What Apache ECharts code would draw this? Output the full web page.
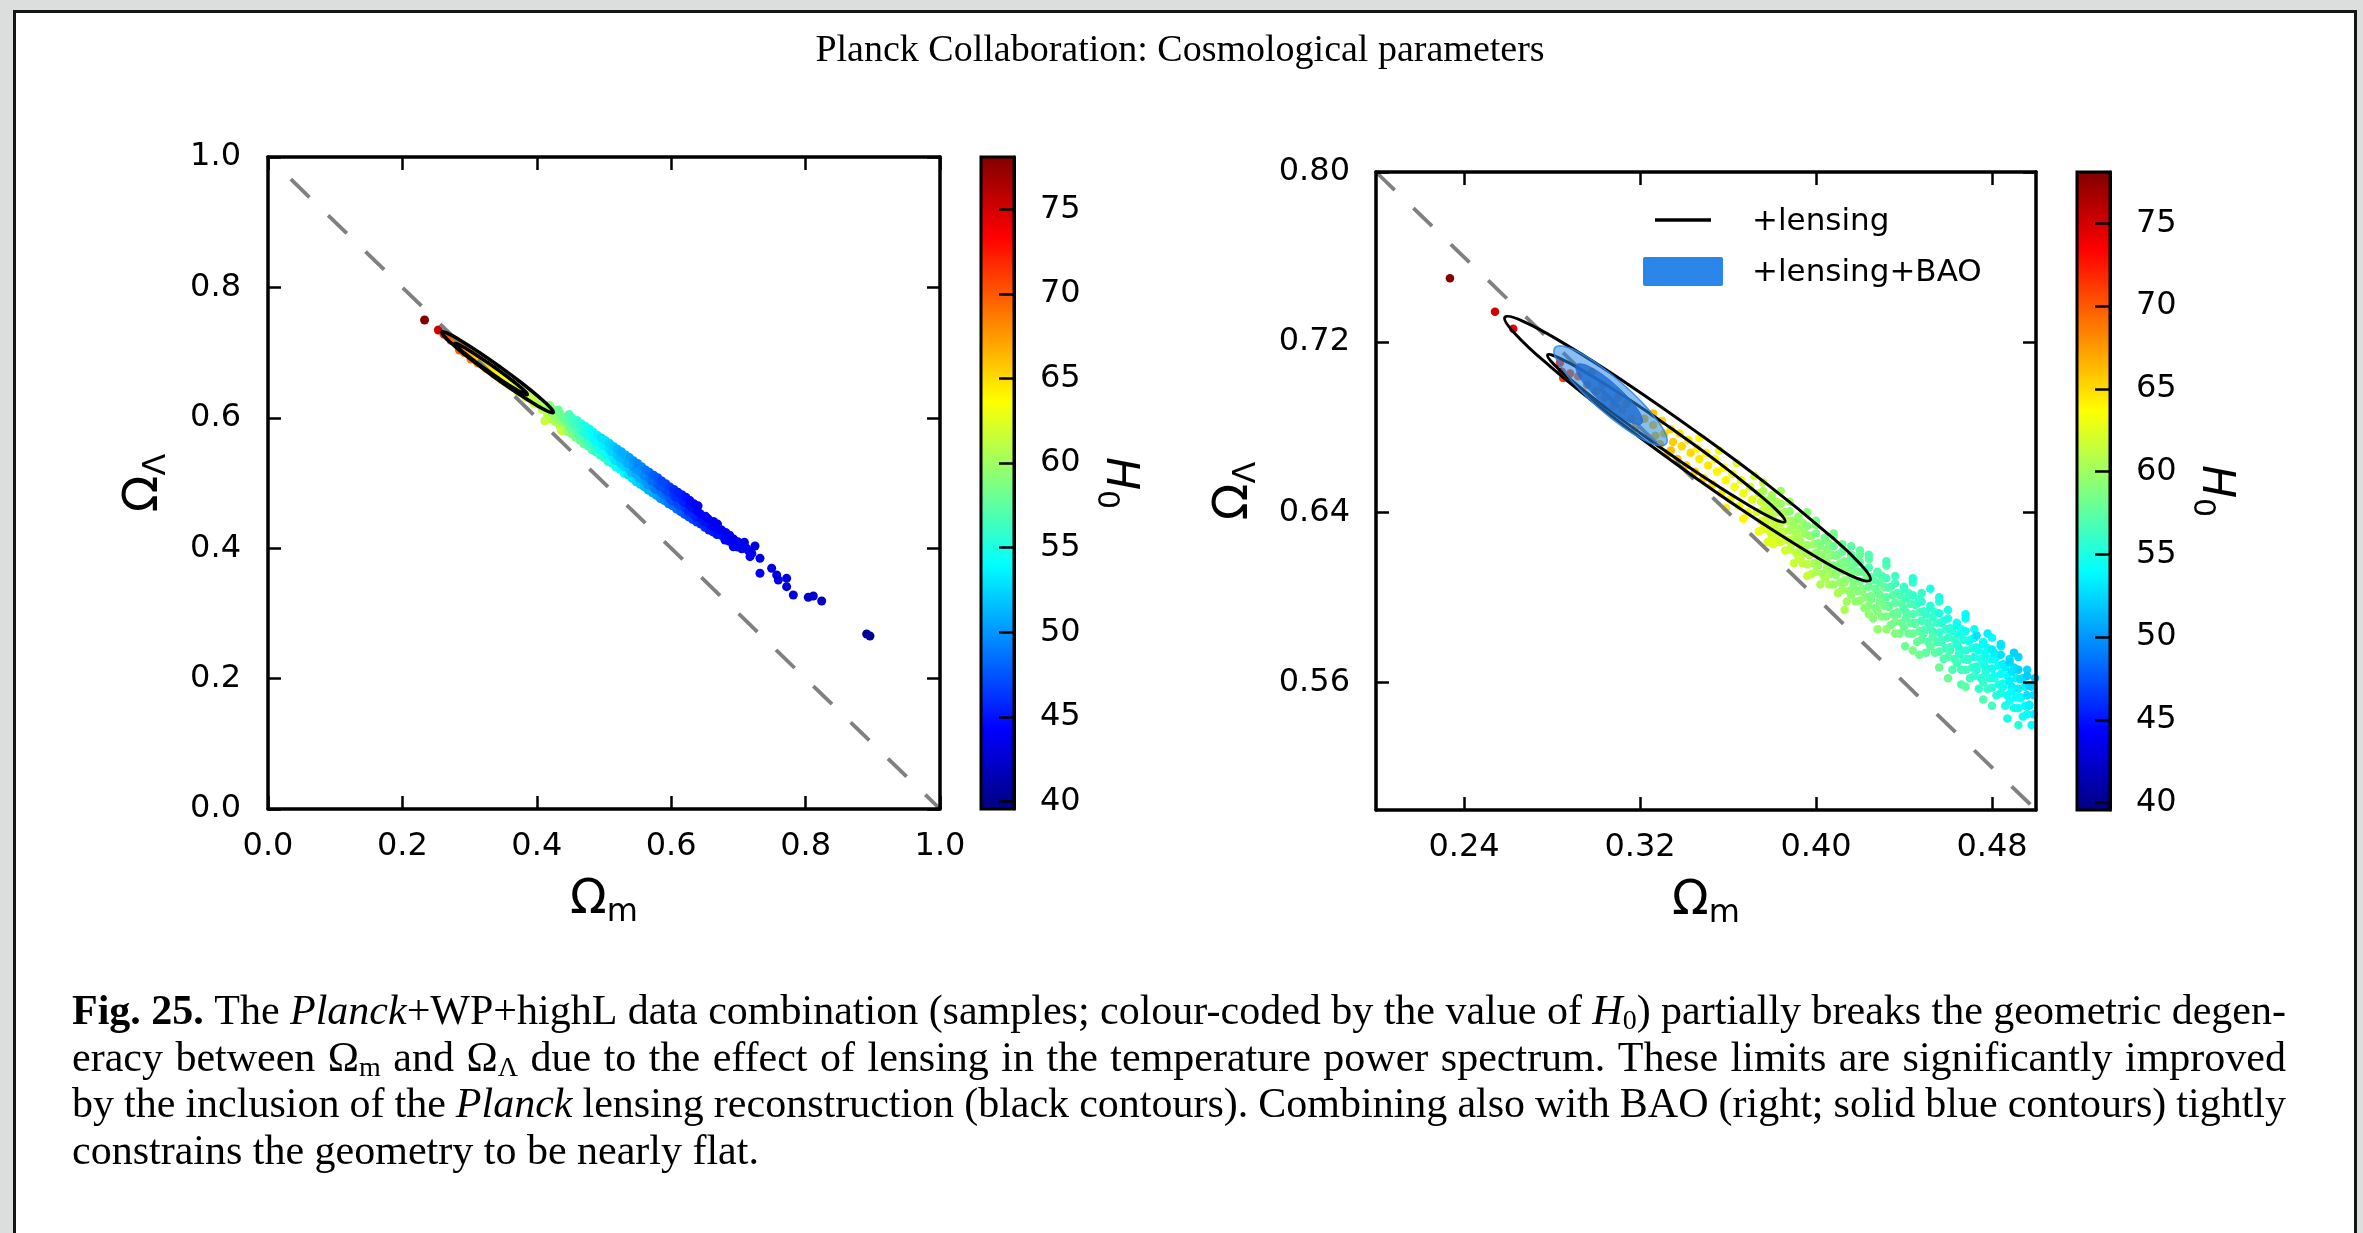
<!DOCTYPE html>
<html>
<head>
<meta charset="utf-8">
<title>Planck Collaboration: Cosmological parameters</title>
<script src="https://cdn.jsdelivr.net/npm/echarts@6.0.0/dist/echarts.min.js"></script>
<style>
html,body{margin:0;padding:0;background:#dcdede;overflow:hidden;}
#chart{width:2363px;height:1233px;}
</style>
</head>
<body>
<div id="chart"></div>
<script>
// ---------------- text ----------------
const titleText = 'Planck Collaboration: Cosmological parameters';
const captionLines = [
  '{b|Fig. 25.} The {i|Planck}+WP+highL data combination (samples; colour-coded by the value of {i|H}{s|0}) partially breaks the geometric degen-',
  'eracy between \u03A9{s|m} and \u03A9{s|\u039B} due to the effect of lensing in the temperature power spectrum. These limits are significantly improved',
  'by the inclusion of the {i|Planck} lensing reconstruction (black contours). Combining also with BAO (right; solid blue contours) tightly',
  'constrains the geometry to be nearly flat.'
];
const legendLabels = ['+lensing', '+lensing+BAO'];

// ---------------- axes / ticks ----------------
const h0Min = 39.55, h0Max = 78.1;
const leftXRange = [0, 1], leftYRange = [0, 1];
const rightXRange = [0.2, 0.5], rightYRange = [0.5, 0.8];
const leftXTicks = [0, 0.2, 0.4, 0.6, 0.8, 1.0];
const leftYTicks = [0, 0.2, 0.4, 0.6, 0.8, 1.0];
const rightXTicks = [0.24, 0.32, 0.40, 0.48];
const rightYTicks = [0.56, 0.64, 0.72, 0.80];
const h0Ticks = [40, 45, 50, 55, 60, 65, 70, 75];

// flat-universe line  Omega_m + Omega_Lambda = 1
const leftFlatLine = [[0.034, 0.966], [1.0, 0.0]];
const rightFlatLine = [[0.2, 0.8], [0.5, 0.5]];

// ---------------- contours [Omega_m, Omega_Lambda] ----------------
const lensing95 = [[0.4246,0.6081],[0.4163,0.6100],[0.3967,0.6211],[0.3687,0.6395],[0.3366,0.6626],[0.3052,0.6868],[0.2794,0.7084],[0.2630,0.7242],[0.2586,0.7317],[0.2669,0.7298],[0.2865,0.7187],[0.3145,0.7002],[0.3466,0.6771],[0.3780,0.6530],[0.4038,0.6313],[0.4202,0.6156]];
const lensing68 = [[0.3859,0.6356],[0.3807,0.6369],[0.3681,0.6441],[0.3500,0.6559],[0.3291,0.6706],[0.3087,0.6859],[0.2918,0.6995],[0.2810,0.7094],[0.2780,0.7140],[0.2832,0.7126],[0.2958,0.7055],[0.3140,0.6937],[0.3348,0.6790],[0.3553,0.6637],[0.3721,0.6500],[0.3829,0.6402]];
const bao95 = [[0.3318,0.6721],[0.3280,0.6715],[0.3208,0.6745],[0.3116,0.6805],[0.3015,0.6888],[0.2923,0.6979],[0.2852,0.7066],[0.2813,0.7135],[0.2814,0.7175],[0.2852,0.7181],[0.2924,0.7152],[0.3016,0.7091],[0.3117,0.7008],[0.3209,0.6917],[0.3280,0.6830],[0.3319,0.6761]];
const bao68 = [[0.3208,0.6818],[0.3184,0.6814],[0.3141,0.6831],[0.3086,0.6867],[0.3027,0.6917],[0.2973,0.6972],[0.2932,0.7025],[0.2911,0.7067],[0.2912,0.7093],[0.2936,0.7097],[0.2979,0.7080],[0.3034,0.7044],[0.3093,0.6994],[0.3147,0.6939],[0.3188,0.6886],[0.3209,0.6843]];

// ---------------- samples [Omega_m, Omega_Lambda, H0] ----------------
const leftSamples = [
[0.233,0.750,78],[0.2535,0.7347,75],
[0.262,0.728,72],[0.268,0.724,71],[0.272,0.719,70],[0.278,0.718,69.5],[0.282,0.712,69],[0.285,0.704,70],[0.288,0.709,68],[0.292,0.700,69],[0.295,0.704,67.5],[0.300,0.698,67],[0.302,0.690,68.5],[0.305,0.697,66.5],[0.310,0.691,66],[0.312,0.684,67.5],[0.316,0.688,65.5],[0.320,0.683,65.5],[0.324,0.676,66.5],[0.326,0.680,65],[0.332,0.674,64.5],[0.336,0.667,65.5],[0.338,0.671,64.5],[0.344,0.666,64],[0.348,0.658,64.5],[0.350,0.662,63.5],[0.356,0.656,63],[0.360,0.649,63.5],[0.362,0.653,63],[0.368,0.647,62.5],[0.372,0.640,63],[0.374,0.644,62],[0.380,0.638,62],[0.384,0.631,62.5],[0.386,0.635,61.5],[0.392,0.629,61],[0.396,0.622,61.5],[0.398,0.626,61],[0.404,0.620,60.5],[0.408,0.613,61],[0.410,0.617,60.5],[0.412,0.5955,61.5],
[0.416,0.604,61],[0.417,0.613,60],[0.419,0.619,59.5],
[0.422,0.598,61],[0.423,0.607,60],[0.421,0.615,59],
[0.428,0.594,60.5],[0.427,0.603,59.5],[0.429,0.611,59],
[0.434,0.588,61],[0.433,0.597,59.5],[0.435,0.606,58.5],[0.432,0.612,58],
[0.440,0.585,60],[0.441,0.593,59],[0.439,0.601,58],[0.437,0.580,61.5],
[0.446,0.579,59.5],[0.447,0.588,58.5],[0.445,0.597,57.5],[0.448,0.605,57],
[0.452,0.575,59],[0.451,0.584,58],[0.453,0.592,57],[0.452,0.600,56.5],
[0.458,0.570,58.5],[0.459,0.579,57.5],[0.457,0.588,56.5],[0.460,0.596,56],
[0.464,0.566,58],[0.463,0.574,57],[0.465,0.583,56],[0.466,0.591,55.5],
[0.470,0.560,58],[0.471,0.569,57],[0.469,0.578,55.5],[0.472,0.587,55],
[0.476,0.557,57],[0.477,0.566,56],[0.475,0.574,55],[0.478,0.583,54.5],
[0.482,0.551,57],[0.481,0.560,56],[0.483,0.569,54.5],[0.484,0.578,54],
[0.488,0.548,56],[0.489,0.557,55],[0.487,0.565,54],[0.490,0.573,53.5],
[0.494,0.543,56],[0.493,0.552,55],[0.495,0.561,54],[0.496,0.569,53],
[0.500,0.539,55.5],[0.501,0.548,54.5],[0.499,0.557,53.5],[0.502,0.565,53],
[0.506,0.533,55.5],[0.505,0.543,54],[0.507,0.552,53],[0.508,0.561,52.5],
[0.512,0.530,55],[0.513,0.539,53.5],[0.511,0.548,52.5],[0.514,0.556,52],
[0.518,0.524,55],[0.517,0.534,53],[0.519,0.543,52],[0.520,0.552,51.5],
[0.524,0.521,54],[0.525,0.530,52.5],[0.523,0.539,51.5],[0.526,0.548,51],
[0.530,0.515,54],[0.529,0.525,52.5],[0.531,0.534,51.5],[0.532,0.543,51],
[0.536,0.512,53],[0.537,0.521,52],[0.535,0.530,51],[0.538,0.539,50.5],
[0.542,0.507,53],[0.541,0.516,51.5],[0.543,0.525,50.5],[0.544,0.534,50],
[0.548,0.502,52.5],[0.549,0.512,51],[0.547,0.521,50],[0.550,0.530,49.5],
[0.554,0.498,52],[0.553,0.507,51],[0.555,0.516,50],[0.556,0.525,49.5],
[0.560,0.494,51.5],[0.561,0.503,50.5],[0.559,0.512,49.5],[0.562,0.520,49],
[0.566,0.489,51],[0.565,0.498,50],[0.567,0.507,49],[0.568,0.516,48.5],
[0.572,0.485,51],[0.573,0.494,49.5],[0.571,0.503,48.5],[0.574,0.512,48],
[0.578,0.481,50.5],[0.577,0.490,49],[0.579,0.499,48],[0.580,0.508,47.5],
[0.584,0.476,50],[0.585,0.486,48.5],[0.583,0.495,47.5],[0.586,0.503,47],
[0.590,0.473,49.5],[0.589,0.482,48.5],[0.591,0.490,47.5],[0.592,0.499,47],
[0.596,0.468,49],[0.597,0.477,48],[0.595,0.486,47],[0.598,0.494,46.5],
[0.602,0.465,48.5],[0.601,0.473,47.5],[0.603,0.482,46.5],[0.604,0.490,46],
[0.608,0.460,48.5],[0.609,0.469,47],[0.607,0.478,46],[0.610,0.486,45.5],
[0.614,0.456,48],[0.613,0.465,47],[0.615,0.474,46],[0.616,0.482,45.5],
[0.620,0.452,47.5],[0.621,0.461,46.5],[0.619,0.470,45.5],[0.622,0.478,45],
[0.626,0.448,47],[0.625,0.457,46],[0.627,0.466,45],[0.628,0.473,44.5],
[0.632,0.444,47],[0.633,0.452,46],[0.631,0.461,45],[0.634,0.468,44.5],
[0.638,0.440,46.5],[0.637,0.448,45.5],[0.639,0.457,44.5],[0.640,0.465,44],
[0.644,0.437,46],[0.645,0.445,45],[0.643,0.453,44.5],
[0.650,0.432,46],[0.649,0.440,45],[0.651,0.449,44.5],
[0.656,0.428,45.5],[0.657,0.436,45],[0.655,0.445,44],
[0.662,0.425,45.5],[0.661,0.433,44.5],[0.663,0.441,44],
[0.668,0.421,45],[0.667,0.429,44.5],[0.669,0.437,44],
[0.674,0.420,45],[0.675,0.428,44],
[0.680,0.414,44.5],[0.681,0.424,44],[0.680,0.4126,44.5],
[0.686,0.411,44.5],[0.687,0.420,44],
[0.692,0.405,44],[0.693,0.414,43.5],[0.6925,0.4023,44],
[0.698,0.402,44],[0.699,0.410,43.5],
[0.7024,0.4075,44],[0.705,0.399,44],[0.709,0.409,43.5],[0.7123,0.3998,43.5],[0.715,0.396,44],[0.720,0.392,43.5],[0.7247,0.4034,43],[0.7173,0.387,44],
[0.7321,0.3845,43.5],[0.7321,0.3615,44],[0.7495,0.3692,43],[0.757,0.3589,43],[0.7594,0.3512,43.5],[0.7718,0.3538,43],[0.7718,0.341,43],[0.7817,0.3282,43],
[0.804,0.3247,42.5],[0.8115,0.3267,42.5],[0.8239,0.319,42],[0.8909,0.2684,40.5],[0.8958,0.2653,40.5]
];

const rightSamples = [
[0.2336,0.750,78],[0.2541,0.7343,75],[0.2624,0.7263,74],
[0.2836,0.7103,71],[0.2844,0.7061,71.5],[0.2851,0.7031,71],[0.2882,0.7053,70.5],
[0.292,0.704,69.5],[0.296,0.700,69],[0.300,0.697,68.5],[0.304,0.694,68],[0.308,0.690,68],[0.312,0.688,67.5],[0.316,0.684,67],[0.303,0.700,68.5],[0.310,0.694,68],[0.318,0.680,67],[0.298,0.706,69],[0.314,0.691,67.5],
[0.322,0.684,66.5],[0.326,0.6865,66],
[0.326,0.681,65.5],[0.327,0.676,66],
[0.330,0.683,65],[0.331,0.677,65.5],[0.329,0.672,66.5],
[0.334,0.679,65],[0.335,0.673,65.5],[0.333,0.668,66],[0.334,0.669,66],
[0.338,0.677,64.5],[0.339,0.671,65],[0.337,0.665,66],
[0.342,0.674,64.5],[0.343,0.668,65],[0.341,0.662,65.5],
[0.346,0.670,64],[0.347,0.665,64.5],[0.345,0.659,65.5],[0.347,0.675,63.5],
[0.350,0.668,64],[0.351,0.662,64.5],[0.349,0.656,65],
[0.354,0.665,63.5],[0.355,0.659,64],[0.353,0.653,65],[0.356,0.669,63],
[0.358,0.661,63.5],[0.359,0.655,64],[0.357,0.649,64.5],[0.359,0.642,64],
[0.362,0.658,63],[0.363,0.652,63.5],[0.361,0.646,64],[0.364,0.663,62.5],
[0.366,0.655,62.5],[0.367,0.649,63],[0.365,0.643,63.5],[0.367,0.637,64],
[0.370,0.652,62],[0.371,0.646,62.5],[0.369,0.640,63],[0.372,0.657,61.5],
[0.374,0.631,63],[0.375,0.636,62.5],[0.373,0.640,62],[0.375,0.645,62],[0.374,0.649,61.5],[0.376,0.654,61],
[0.378,0.626,62.5],[0.379,0.631,62],[0.377,0.635,62],[0.379,0.640,61.5],[0.378,0.644,61],[0.380,0.648,60.5],
[0.382,0.626,62],[0.383,0.631,61.5],[0.381,0.636,61],[0.383,0.640,61],[0.382,0.645,60.5],[0.384,0.650,60],
[0.386,0.622,62],[0.387,0.627,61.5],[0.385,0.631,61],[0.387,0.636,61],[0.386,0.640,60.5],[0.388,0.645,60],
[0.390,0.616,61.5],[0.391,0.621,61],[0.389,0.625,61],[0.391,0.630,60.5],[0.390,0.634,60],[0.392,0.638,59.5],
[0.394,0.616,61],[0.395,0.621,60.5],[0.393,0.626,60],[0.395,0.630,60],[0.394,0.635,59.5],[0.396,0.640,59],
[0.398,0.611,61],[0.399,0.616,60.5],[0.397,0.620,60],[0.399,0.625,60],[0.398,0.629,59.5],[0.400,0.634,59],
[0.402,0.606,60.5],[0.403,0.611,60],[0.401,0.615,60],[0.403,0.620,59.5],[0.402,0.624,59],[0.404,0.628,58.5],
[0.406,0.606,60.5],[0.407,0.611,60],[0.405,0.616,59.5],[0.407,0.620,59.5],[0.406,0.625,59],[0.408,0.630,58.5],
[0.410,0.602,60],[0.411,0.607,59.5],[0.409,0.611,59],[0.411,0.616,59],[0.410,0.620,58.5],[0.412,0.625,58],
[0.414,0.598,60],[0.415,0.603,59.5],[0.413,0.607,59.5],[0.415,0.612,59],[0.414,0.616,58.5],[0.416,0.620,58],
[0.418,0.598,59.5],[0.419,0.603,59],[0.417,0.608,58.5],[0.419,0.612,58.5],[0.418,0.617,58],[0.420,0.622,57.5],
[0.422,0.595,59.5],[0.423,0.600,59],[0.421,0.604,58.5],[0.423,0.609,58.5],[0.422,0.613,58],[0.424,0.618,57.5],
[0.426,0.590,59],[0.427,0.595,58.5],[0.425,0.599,58.5],[0.427,0.604,58],[0.426,0.608,57.5],[0.428,0.612,57],
[0.430,0.591,59],[0.431,0.596,58.5],[0.429,0.601,58],[0.431,0.605,58],[0.430,0.610,57.5],[0.432,0.615,57],
[0.434,0.587,58.5],[0.435,0.592,58],[0.433,0.596,57.5],[0.435,0.601,57.5],[0.434,0.605,57],[0.436,0.610,56.5],
[0.438,0.583,58.5],[0.439,0.588,58],[0.437,0.592,58],[0.439,0.597,57.5],[0.438,0.601,57],[0.440,0.605,56.5],
[0.442,0.583,58],[0.443,0.588,57.5],[0.441,0.593,57],[0.443,0.597,57],[0.442,0.602,56.5],[0.444,0.607,56],
[0.446,0.579,58],[0.447,0.584,57.5],[0.445,0.588,57],[0.447,0.593,57],[0.446,0.597,56.5],[0.448,0.602,56],
[0.450,0.574,57.5],[0.451,0.579,57],[0.449,0.583,57],[0.451,0.588,56.5],[0.450,0.592,56],[0.452,0.596,55.5],
[0.454,0.574,57.5],[0.455,0.579,57],[0.453,0.584,56.5],[0.455,0.588,56.5],[0.454,0.593,56],[0.456,0.598,55.5],
[0.458,0.571,57],[0.459,0.576,56.5],[0.457,0.580,56],[0.459,0.585,56],[0.458,0.589,55.5],[0.460,0.594,55],
[0.462,0.566,57],[0.463,0.571,56.5],[0.461,0.575,56.5],[0.463,0.580,56],[0.462,0.584,55.5],[0.464,0.588,55],
[0.466,0.566,56.5],[0.467,0.571,56],[0.465,0.576,55.5],[0.467,0.580,55.5],[0.466,0.585,55],[0.468,0.590,54.5],
[0.470,0.562,56.5],[0.471,0.567,56],[0.469,0.571,55.5],[0.471,0.576,55.5],[0.470,0.580,55],[0.472,0.585,54.5],
[0.474,0.557,56],[0.475,0.562,55.5],[0.473,0.566,55.5],[0.475,0.571,55],[0.474,0.575,54.5],[0.476,0.579,54],
[0.478,0.557,56],[0.479,0.562,55.5],[0.477,0.567,55],[0.479,0.571,55],[0.478,0.576,54.5],[0.480,0.581,54],
[0.482,0.554,55.5],[0.483,0.559,55],[0.481,0.563,54.5],[0.483,0.568,54.5],[0.482,0.572,54],[0.484,0.577,53.5],
[0.486,0.549,55],[0.487,0.554,54.5],[0.485,0.558,54.5],[0.487,0.563,54],[0.486,0.567,53.5],[0.488,0.571,53],
[0.490,0.548,54.5],[0.491,0.553,54],[0.489,0.558,53.5],[0.491,0.562,53.5],[0.490,0.567,53],[0.492,0.572,52.5],
[0.494,0.544,54.5],[0.495,0.549,54],[0.493,0.553,53.5],[0.495,0.558,53.5],[0.494,0.562,53],[0.496,0.566,52.5],
[0.498,0.540,54],[0.499,0.545,53.5],[0.497,0.549,53.5],[0.499,0.554,53],[0.498,0.558,52.5],[0.4995,0.562,52],
[0.376,0.632,62.5],[0.377,0.6365,62],[0.376,0.641,61.5],[0.377,0.6455,61],[0.376,0.650,60.5],
[0.380,0.629,62],[0.381,0.6335,61.5],[0.380,0.638,61],[0.381,0.6425,60.5],[0.380,0.647,60],
[0.384,0.626,62],[0.385,0.6305,61.5],[0.384,0.635,61],[0.385,0.6395,60.5],[0.384,0.644,60],
[0.388,0.6225,61.5],[0.389,0.627,61],[0.388,0.6315,60.5],[0.389,0.636,60],[0.388,0.6405,59.5],
[0.392,0.619,61.5],[0.393,0.6235,61],[0.392,0.628,60.5],[0.393,0.6325,60],[0.392,0.637,59.5],
[0.396,0.6155,61],[0.397,0.620,60.5],[0.396,0.6245,60],[0.397,0.629,59.5],[0.396,0.6335,59],
[0.400,0.612,60.5],[0.401,0.6165,60],[0.400,0.621,59.5],[0.401,0.6255,59],[0.400,0.630,58.5],
[0.404,0.609,60.5],[0.405,0.6135,60],[0.404,0.618,59.5],[0.405,0.6225,59],[0.404,0.627,58.5],
[0.408,0.606,60],[0.409,0.6105,59.5],[0.408,0.615,59],[0.409,0.6195,58.5],[0.408,0.624,58],
[0.412,0.6035,60],[0.413,0.608,59.5],[0.412,0.6125,59],[0.413,0.617,58.5],[0.412,0.6215,58],
[0.416,0.601,59.5],[0.417,0.6055,59],[0.416,0.610,58.5],[0.417,0.6145,58],[0.416,0.619,57.5],
[0.420,0.5985,59.5],[0.421,0.603,59],[0.420,0.6075,58.5],[0.421,0.612,58],[0.420,0.6165,57.5],
[0.424,0.596,59],[0.425,0.6005,58.5],[0.424,0.605,58],[0.425,0.6095,57.5],[0.424,0.614,57],
[0.428,0.5935,59],[0.429,0.598,58.5],[0.428,0.6025,58],[0.429,0.607,57.5],[0.428,0.6115,57],
[0.432,0.591,58.5],[0.433,0.5955,58],[0.432,0.600,57.5],[0.433,0.6045,57],[0.432,0.609,56.5],
[0.436,0.5885,58.5],[0.437,0.593,58],[0.436,0.5975,57.5],[0.437,0.602,57],[0.436,0.6065,56.5],
[0.440,0.586,58],[0.441,0.5905,57.5],[0.440,0.595,57],[0.441,0.5995,56.5],[0.440,0.604,56],
[0.444,0.583,58],[0.445,0.5875,57.5],[0.444,0.592,57],[0.445,0.5965,56.5],[0.444,0.601,56],
[0.448,0.580,57.5],[0.449,0.5845,57],[0.448,0.589,56.5],[0.449,0.5935,56],[0.448,0.598,55.5],
[0.452,0.577,57.5],[0.453,0.5815,57],[0.452,0.586,56.5],[0.453,0.5905,56],[0.452,0.595,55.5],
[0.456,0.5745,57],[0.457,0.579,56.5],[0.456,0.5835,56],[0.457,0.588,55.5],[0.456,0.5925,55],
[0.460,0.572,57],[0.461,0.5765,56.5],[0.460,0.581,56],[0.461,0.5855,55.5],[0.460,0.590,55],
[0.464,0.569,56.5],[0.465,0.5735,56],[0.464,0.578,55.5],[0.465,0.5825,55],[0.464,0.587,54.5],
[0.468,0.566,56.5],[0.469,0.5705,56],[0.468,0.575,55.5],[0.469,0.5795,55],[0.468,0.584,54.5],
[0.472,0.563,56],[0.473,0.5675,55.5],[0.472,0.572,55],[0.473,0.5765,54.5],[0.472,0.581,54],
[0.476,0.560,56],[0.477,0.5645,55.5],[0.476,0.569,55],[0.477,0.5735,54.5],[0.476,0.578,54],
[0.480,0.5575,55.5],[0.481,0.562,55],[0.480,0.5665,54.5],[0.481,0.571,54],[0.480,0.5755,53.5],
[0.484,0.555,55],[0.485,0.5595,54.5],[0.484,0.564,54],[0.485,0.5685,53.5],[0.484,0.573,53],
[0.488,0.5515,54.5],[0.489,0.556,54],[0.488,0.5605,53.5],[0.489,0.565,53],[0.488,0.5695,52.5],
[0.492,0.548,54.5],[0.493,0.5525,54],[0.492,0.557,53.5],[0.493,0.5615,53],[0.492,0.566,52.5],
[0.496,0.545,54],[0.497,0.5495,53.5],[0.496,0.554,53],[0.497,0.5585,52.5],[0.496,0.563,52],
[0.382,0.6285,62],[0.3805,0.625,62.5],[0.393,0.6175,61.5],[0.408,0.629,58.5],[0.420,0.620,58],
[0.413,0.594,60.5],[0.428,0.585,59.5],[0.432,0.585,59.5],[0.4405,0.577,58],[0.447,0.573,58],[0.447,0.5995,56],
[0.466,0.559,57],[0.473,0.582,53],[0.481,0.574,53.5],[0.487,0.543,55],
[0.400,0.636,58.5],[0.416,0.624,57.5],[0.424,0.620,57],[0.432,0.617,56.5],[0.444,0.609,55.5],[0.452,0.604,55],[0.456,0.600,55],[0.468,0.592,54],[0.478,0.583,53.5],[0.484,0.578,53],[0.490,0.574,52.5],
[0.396,0.610,61.5],[0.410,0.602,60.5],[0.424,0.592,59.5],[0.436,0.583,59],[0.444,0.575,58.5],[0.456,0.567,58],[0.460,0.562,58],[0.468,0.558,57.5],[0.476,0.552,57],[0.480,0.549,56.5],[0.492,0.540,55.5]
];

// ---------------- helpers ----------------
const SANS = "'DejaVu Sans', sans-serif";
const SERIF = "'Liberation Serif', 'Times New Roman', serif";
const captionWidth = 2214;

function jet(t) {
  const c = v => Math.round(255 * Math.max(0, Math.min(1, v)));
  return 'rgb(' + c(1.5 - Math.abs(4 * t - 3)) + ',' + c(1.5 - Math.abs(4 * t - 2)) + ',' + c(1.5 - Math.abs(4 * t - 1)) + ')';
}
const jetColors = [];
for (let i = 0; i <= 32; i++) jetColors.push(jet(i / 32));

const omegaName = {
  color: '#000',
  rich: {
    a: {fontSize: 48, fontFamily: SANS, color: '#000', lineHeight: 56},
    b: {fontSize: 32, fontFamily: SANS, color: '#000', lineHeight: 30, verticalAlign: 'bottom'}
  }
};
const h0Name = {
  color: '#000',
  rich: {
    a: {fontSize: 44, fontFamily: SANS, fontStyle: 'italic', color: '#000', lineHeight: 54},
    b: {fontSize: 30, fontFamily: SANS, color: '#000', lineHeight: 28, verticalAlign: 'bottom'}
  }
};

function axis(o) {
  return {
    type: 'value', gridIndex: o.grid, position: o.pos, min: o.range[0], max: o.range[1], z: 10,
    axisLine: {show: true, onZero: false, lineStyle: {color: '#000', width: o.lw || 3.5}},
    axisTick: {show: true, inside: true, length: o.tickLen || 13, customValues: o.ticks,
               lineStyle: {color: '#000', width: 2.5}},
    axisLabel: {show: !!o.fmt, customValues: o.ticks, formatter: o.fmt, color: '#000',
                fontSize: 32, fontFamily: SANS, margin: o.margin || 24},
    splitLine: {show: false}, splitArea: {show: false}, minorTick: {show: false},
    name: o.name || '', nameLocation: 'middle', nameGap: o.nameGap || 0,
    nameRotate: o.nameRotate || 0, nameTextStyle: o.nameStyle || {}
  };
}

function contourRender(sets) {
  return function (params, api) {
    const s = sets[params.dataIndex];
    return {type: 'polygon', shape: {points: s.pts.map(p => api.coord(p)), smooth: 0.45}, style: s.style};
  };
}
function flatLineRender(line) {
  return function (params, api) {
    const p0 = api.coord(line[0]), p1 = api.coord(line[1]);
    return {type: 'line', shape: {x1: p0[0], y1: p0[1], x2: p1[0], y2: p1[1]},
            style: {stroke: '#808080', lineWidth: 3.8, lineDash: [26, 26], lineCap: 'butt'}};
  };
}
function colorbarRender(params, api) {
  const p0 = api.coord([0, h0Max]), p1 = api.coord([1, h0Min]);
  const stops = jetColors.map((c, i) => ({offset: i / (jetColors.length - 1), color: c}));
  return {type: 'rect', shape: {x: p0[0], y: p0[1], width: p1[0] - p0[0], height: p1[1] - p0[1]},
          style: {fill: new echarts.graphic.LinearGradient(0, 1, 0, 0, stops), stroke: '#000', lineWidth: 3}};
}

const leftContours = [
  {pts: lensing95, style: {fill: 'none', stroke: '#000', lineWidth: 3.5}},
  {pts: lensing68, style: {fill: 'none', stroke: '#000', lineWidth: 3.5}}
];
const rightContours = [
  {pts: lensing95, style: {fill: 'none', stroke: '#000', lineWidth: 3}},
  {pts: lensing68, style: {fill: 'none', stroke: '#000', lineWidth: 3}}
];
const baoContours = [
  {pts: bao95, style: {fill: 'rgba(42,134,232,0.55)', stroke: 'rgba(42,134,232,0.85)', lineWidth: 1.5}},
  {pts: bao68, style: {fill: 'rgba(30,110,210,0.82)', stroke: 'rgba(30,110,210,0.9)', lineWidth: 1}}
];

const captionRich = {
  b: {fontSize: 42, fontFamily: SERIF, fontWeight: 'bold', fill: '#000', color: '#000', lineHeight: 46},
  i: {fontSize: 42, fontFamily: SERIF, fontStyle: 'italic', fill: '#000', color: '#000', lineHeight: 46},
  s: {fontSize: 28, fontFamily: SERIF, fill: '#000', color: '#000', lineHeight: 20, verticalAlign: 'bottom'}
};

// justified caption lines: widen plain spaces so that each full line spans captionWidth
function captionElements() {
  const baseStyle = {fontSize: 42, fontFamily: SERIF, fill: '#000', lineHeight: 46};
  const measure = (txt, rich) => {
    const t = new echarts.graphic.Text({style: Object.assign({}, baseStyle, {text: txt, rich: rich})});
    return t.getBoundingRect().width;
  };
  return captionLines.map((line, i) => {
    let text = line;
    const rich = Object.assign({}, captionRich);
    if (i < captionLines.length - 1) {
      try {
        let out = '', depth = 0, n = 0;
        for (const ch of line) {
          if (ch === '{') depth++;
          else if (ch === '}') depth--;
          if (ch === ' ' && depth === 0) { out += '{w| }'; n++; } else out += ch;
        }
        const natural = measure(line, captionRich);
        let sw = measure('a{w| }a', {w: {fontSize: 42, fontFamily: SERIF, lineHeight: 46}}) - measure('aa', {});
        if (!(sw > 0)) sw = 10.5;
        const extra = (captionWidth - natural) / n;
        if (n > 0 && isFinite(extra) && natural > 0 && sw + extra > 2) {
          rich.w = {fontSize: 42, fontFamily: SERIF, lineHeight: 46, width: sw + extra};
          text = out;
        }
      } catch (e) { text = line; }
    }
    return {
      type: 'text', x: 72, y: 1013 + i * 46.67, silent: true,
      style: Object.assign({}, baseStyle, {text: text, align: 'left', verticalAlign: 'middle',
                            textAlign: 'left', textVerticalAlign: 'middle', rich: rich})
    };
  });
}

const chart = echarts.init(document.getElementById('chart'), null, {renderer: 'canvas', width: 2363, height: 1233});

const option = {
  animation: false,
  backgroundColor: '#dcdede',
  textStyle: {fontFamily: SANS},
  grid: [
    {left: 268, top: 157, width: 672, height: 652, outerBoundsMode: 'none'},
    {left: 981, top: 157, width: 33, height: 652, outerBoundsMode: 'none'},
    {left: 1376, top: 172, width: 660, height: 638, outerBoundsMode: 'none'},
    {left: 2077, top: 172, width: 33, height: 638, outerBoundsMode: 'none'}
  ],
  xAxis: [
    axis({grid: 0, pos: 'bottom', range: leftXRange, ticks: leftXTicks, fmt: v => v.toFixed(1), margin: 22,
          name: '{a|\u03A9}{b|m}', nameGap: 64, nameStyle: omegaName}),
    axis({grid: 0, pos: 'top', range: leftXRange, ticks: leftXTicks}),
    {type: 'value', gridIndex: 1, min: 0, max: 1, show: false},
    axis({grid: 2, pos: 'bottom', range: rightXRange, ticks: rightXTicks, fmt: v => v.toFixed(2), margin: 22,
          name: '{a|\u03A9}{b|m}', nameGap: 64, nameStyle: omegaName}),
    axis({grid: 2, pos: 'top', range: rightXRange, ticks: rightXTicks}),
    {type: 'value', gridIndex: 3, min: 0, max: 1, show: false}
  ],
  yAxis: [
    axis({grid: 0, pos: 'left', range: leftYRange, ticks: leftYTicks, fmt: v => v.toFixed(1), margin: 27,
          name: '{a|\u03A9}{b|\u039B}', nameGap: 95, nameRotate: 90, nameStyle: omegaName}),
    axis({grid: 0, pos: 'right', range: leftYRange, ticks: leftYTicks}),
    axis({grid: 1, pos: 'right', range: [h0Min, h0Max], ticks: h0Ticks, fmt: v => String(v), margin: 26,
          tickLen: 15, lw: 3, name: '{a|H}{b|0}', nameGap: 77, nameRotate: -90, nameStyle: h0Name}),
    axis({grid: 2, pos: 'left', range: rightYRange, ticks: rightYTicks, fmt: v => v.toFixed(2), margin: 26,
          name: '{a|\u03A9}{b|\u039B}', nameGap: 113, nameRotate: 90, nameStyle: omegaName}),
    axis({grid: 2, pos: 'right', range: rightYRange, ticks: rightYTicks}),
    axis({grid: 3, pos: 'right', range: [h0Min, h0Max], ticks: h0Ticks, fmt: v => String(v), margin: 26,
          tickLen: 15, lw: 3, name: '{a|H}{b|0}', nameGap: 77, nameRotate: -90, nameStyle: h0Name})
  ],
  visualMap: [{
    type: 'continuous', show: false, min: h0Min, max: h0Max, dimension: 2,
    seriesIndex: [0, 4], inRange: {color: jetColors}
  }],
  series: [
    {type: 'scatter', name: 'samples', xAxisIndex: 0, yAxisIndex: 0, data: leftSamples, symbolSize: 9,
     itemStyle: {opacity: 1}, z: 2, clip: true, silent: true},
    {type: 'custom', xAxisIndex: 0, yAxisIndex: 0, renderItem: flatLineRender(leftFlatLine),
     data: [leftFlatLine[0]], z: 3, silent: true},
    {type: 'custom', name: '+lensing', xAxisIndex: 0, yAxisIndex: 0, renderItem: contourRender(leftContours),
     data: leftContours.map(s => s.pts[0]), z: 4, silent: true},
    {type: 'custom', xAxisIndex: 2, yAxisIndex: 2, renderItem: colorbarRender,
     data: [[0.5, (h0Min + h0Max) / 2]], z: 1, silent: true},
    {type: 'scatter', name: 'samples', xAxisIndex: 3, yAxisIndex: 3, data: rightSamples, symbolSize: 8.5,
     itemStyle: {opacity: 1}, z: 2, clip: true, silent: true},
    {type: 'custom', xAxisIndex: 3, yAxisIndex: 3, renderItem: flatLineRender(rightFlatLine),
     data: [rightFlatLine[0]], z: 3, silent: true},
    {type: 'custom', name: '+lensing', xAxisIndex: 3, yAxisIndex: 3, renderItem: contourRender(rightContours),
     data: rightContours.map(s => s.pts[0]), z: 4, silent: true},
    {type: 'custom', name: '+lensing+BAO', xAxisIndex: 3, yAxisIndex: 3, renderItem: contourRender(baoContours),
     data: baoContours.map(s => s.pts[0]), z: 5, silent: true},
    {type: 'custom', xAxisIndex: 5, yAxisIndex: 5, renderItem: colorbarRender,
     data: [[0.5, (h0Min + h0Max) / 2]], z: 1, silent: true}
  ],
  graphic: [
    {type: 'rect', z: -100, silent: true, shape: {x: 14.5, y: 11.5, width: 2341, height: 1400},
     style: {fill: '#ffffff', stroke: '#151515', lineWidth: 3}},
    {type: 'text', x: 1180, y: 51, silent: true,
     style: {text: titleText, fontSize: 38, fontFamily: SERIF, fill: '#000',
             align: 'center', verticalAlign: 'middle', textAlign: 'center', textVerticalAlign: 'middle'}}
  ].concat(captionElements()).concat([
    {type: 'line', silent: true, shape: {x1: 1655, y1: 220, x2: 1711, y2: 220},
     style: {stroke: '#000', lineWidth: 3.5}},
    {type: 'text', x: 1752, y: 222, silent: true,
     style: {text: legendLabels[0], fontSize: 31, fontFamily: SANS, fill: '#000',
             verticalAlign: 'middle', textVerticalAlign: 'middle'}},
    {type: 'rect', silent: true, shape: {x: 1643, y: 257, width: 80, height: 29, r: 2},
     style: {fill: '#2a86e8'}},
    {type: 'text', x: 1752, y: 273, silent: true,
     style: {text: legendLabels[1], fontSize: 31, fontFamily: SANS, fill: '#000',
             verticalAlign: 'middle', textVerticalAlign: 'middle'}}
  ])
};
chart.setOption(option);
</script>
</body>
</html>
